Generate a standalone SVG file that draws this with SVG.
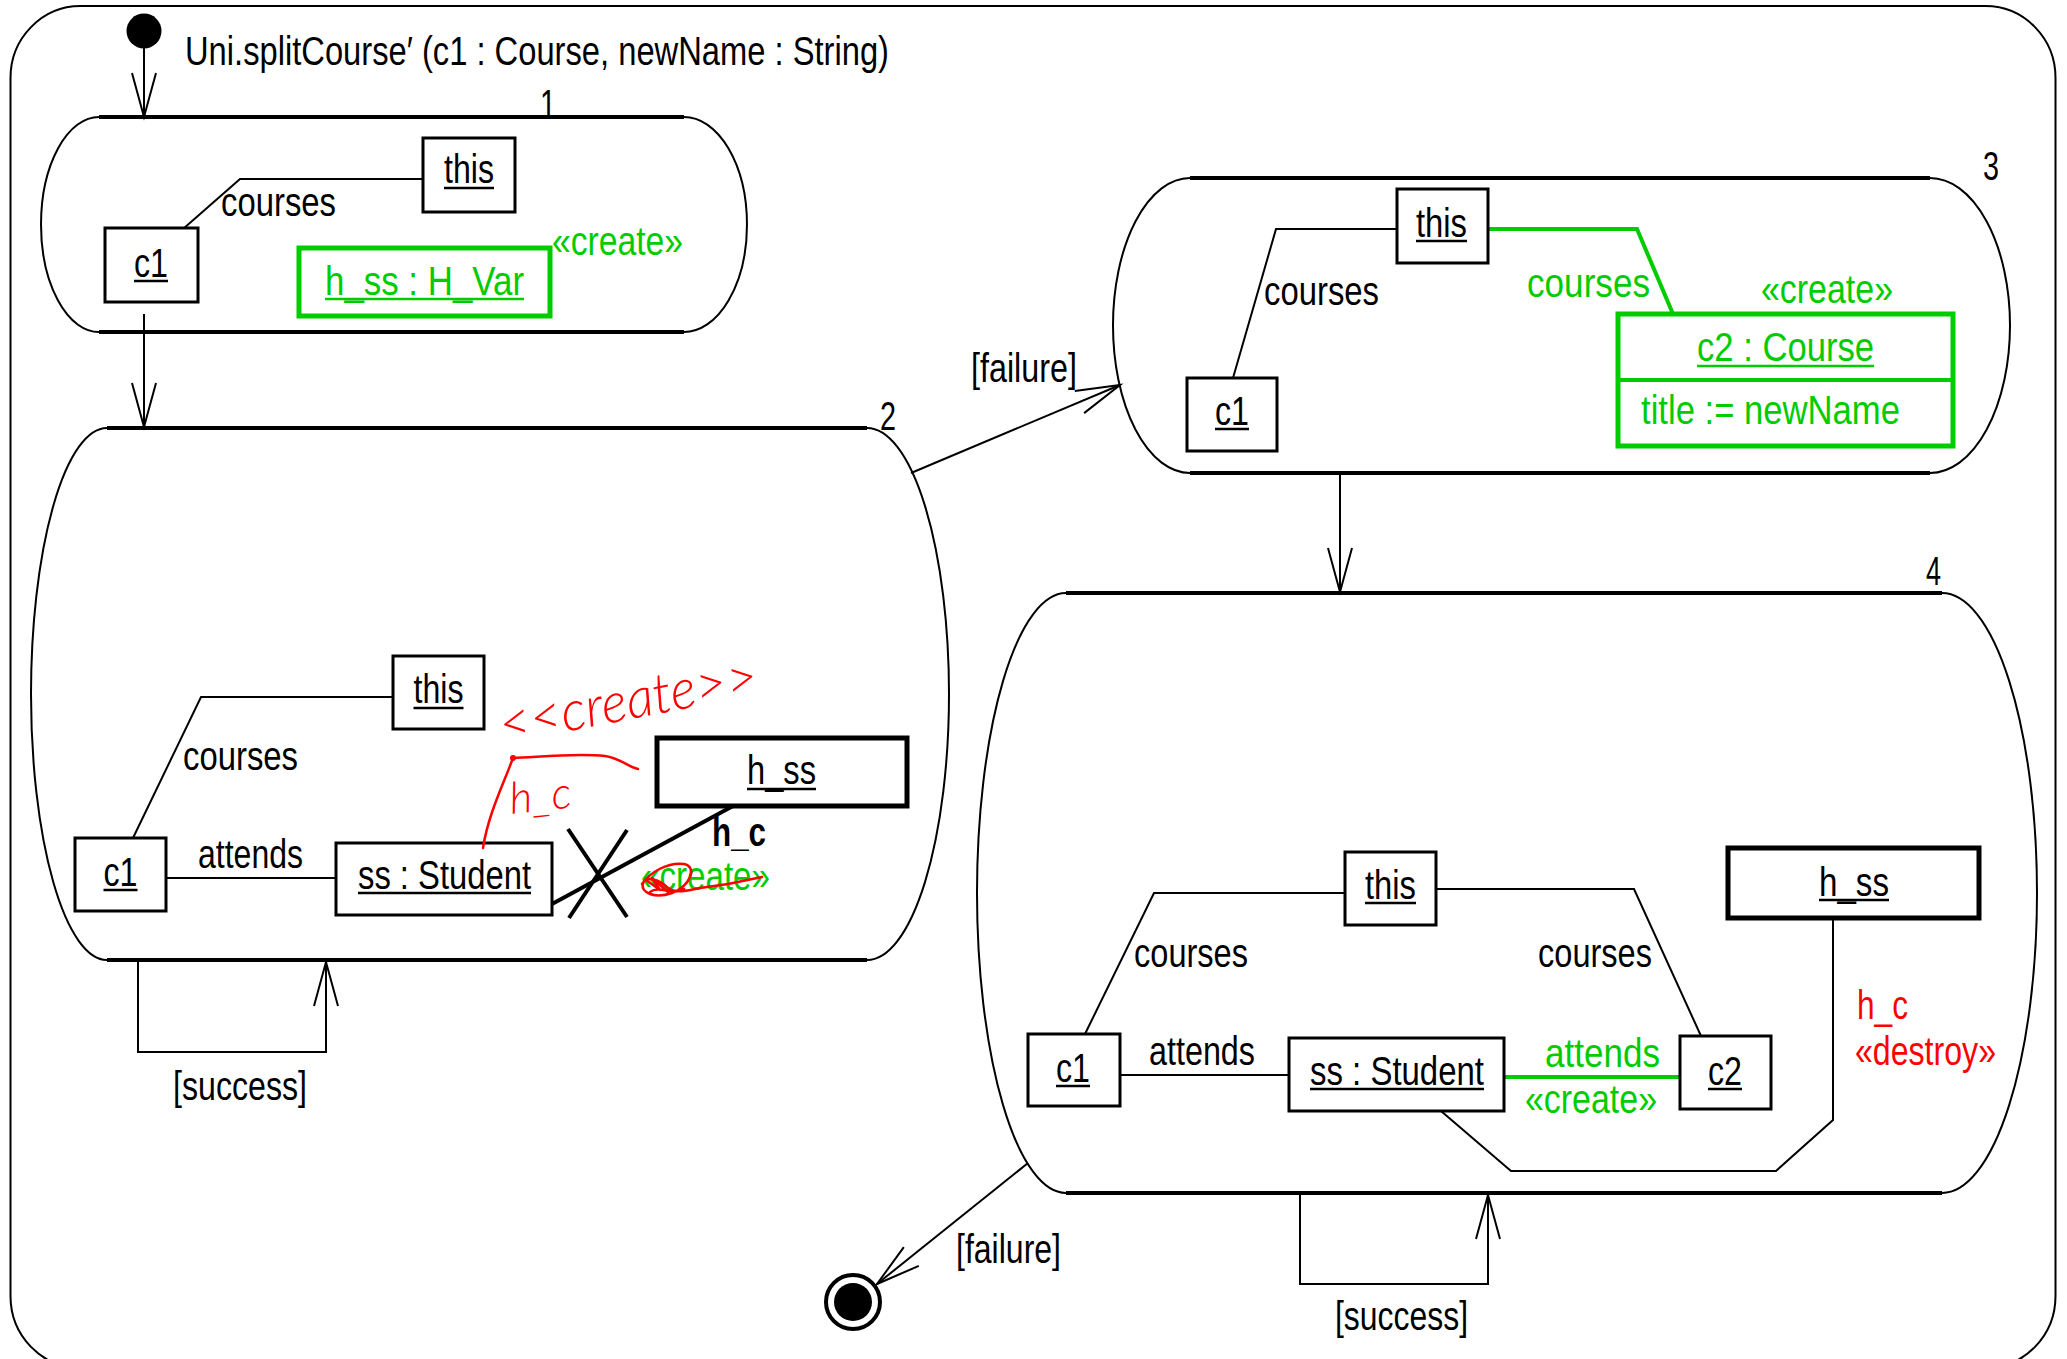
<svg xmlns="http://www.w3.org/2000/svg" width="2067" height="1359" viewBox="0 0 2067 1359">
  <defs>
    <style>
      .t { font-family: "Liberation Sans", Arial, sans-serif; font-size: 40px; fill: #000; }
      .g { fill: #00cc00; }
      .r { fill: #ff0000; }
      .b { font-weight: bold; }
      .hw { font-family: "Lato", "Inter", "Liberation Sans", sans-serif; font-style: italic; font-weight: 300; fill: #ff0000; }
      .frame { fill: #fff; stroke: #000; stroke-width: 2; }
      .st { fill: #fff; stroke: #000; stroke-width: 2; }
      .edge { stroke: #000; stroke-width: 4; }
      .box { fill: #fff; stroke: #000; stroke-width: 3; }
      .hbox { fill: #fff; stroke: #000; stroke-width: 5; }
      .gbox { fill: #fff; stroke: #00cc00; stroke-width: 5; }
      .ul { stroke: #000; stroke-width: 2.5; }
      .gul { stroke: #00cc00; stroke-width: 2.5; }
      .ln { fill: none; stroke: #000; stroke-width: 2; }
      .thick { fill: none; stroke: #000; stroke-width: 4; }
      .gl { fill: none; stroke: #00cc00; stroke-width: 4; }
      .ink { fill: none; stroke: #ff0000; stroke-width: 2.5; stroke-linecap: round; stroke-linejoin: round; }
      .tr { fill: none; stroke: #000; stroke-width: 2; marker-end: url(#open); }
    </style>
    <marker id="open" viewBox="0 0 44 24" refX="44" refY="12" markerWidth="44" markerHeight="24" markerUnits="userSpaceOnUse" orient="auto" overflow="visible">
      <path d="M0,0 L44,12 L0,24" fill="none" stroke="#000" stroke-width="2"/>
    </marker>
  </defs>

  <!-- enclosing operation frame -->
  <rect class="frame" x="10.5" y="6" width="2045" height="1362" rx="70" ry="72"/>
  <text class="t" x="185" y="65" textLength="704" lengthAdjust="spacingAndGlyphs">Uni.splitCourse′ (c1 : Course, newName : String)</text>

  <!-- pseudo states -->
  <g id="initial">
    <circle cx="144" cy="31" r="17.5" fill="#000"/>
  </g>
  <g id="final">
    <circle cx="853" cy="1302" r="27" fill="#fff" stroke="#000" stroke-width="4"/>
    <circle cx="853" cy="1302" r="19" fill="#000"/>
  </g>

  <!-- state 1 -->
  <g id="state1">
    <path class="st" d="M99,117 L684,117 A63,107.5 0 0 1 684,332 L99,332 A58,107.5 0 0 1 99,117 Z"/>
    <line class="edge" x1="99" y1="117" x2="684" y2="117"/>
    <line class="edge" x1="99" y1="332" x2="684" y2="332"/>
    <text class="t" x="540" y="118" textLength="16" lengthAdjust="spacingAndGlyphs">1</text>
    <polyline class="ln" points="183,229 240,179 423,179"/>
    <text class="t" x="221" y="216" textLength="115" lengthAdjust="spacingAndGlyphs">courses</text>
    <g id="s1-this">
      <rect class="box" x="423" y="138" width="92" height="74"/>
      <text class="t" x="444" y="183" textLength="50" lengthAdjust="spacingAndGlyphs">this</text>
      <line class="ul" x1="444" y1="188" x2="494" y2="188"/>
    </g>
    <g id="s1-c1">
      <rect class="box" x="105" y="228" width="93" height="74"/>
      <text class="t" x="134" y="277" textLength="34" lengthAdjust="spacingAndGlyphs">c1</text>
      <line class="ul" x1="134" y1="281" x2="168" y2="281"/>
    </g>
    <g id="s1-hss">
      <rect class="gbox" x="299" y="248" width="251" height="68"/>
      <text class="t g" x="325" y="295" textLength="199" lengthAdjust="spacingAndGlyphs">h_ss : H_Var</text>
      <line class="gul" x1="325" y1="299" x2="524" y2="299"/>
    </g>
    <text class="t g" x="552" y="255" textLength="131" lengthAdjust="spacingAndGlyphs">«create»</text>
  </g>

  <!-- state 2 -->
  <g id="state2">
    <path class="st" d="M107,428 L867,428 A82,266 0 0 1 867,960 L107,960 A76,266 0 0 1 107,428 Z"/>
    <line class="edge" x1="107" y1="428" x2="867" y2="428"/>
    <line class="edge" x1="107" y1="960" x2="867" y2="960"/>
    <text class="t" x="880" y="430" textLength="16" lengthAdjust="spacingAndGlyphs">2</text>
    <polyline class="ln" points="133,838 201,697 393,697"/>
    <text class="t" x="183" y="770" textLength="115" lengthAdjust="spacingAndGlyphs">courses</text>
    <line class="ln" x1="166" y1="878" x2="336" y2="878"/>
    <text class="t" x="198" y="868" textLength="105" lengthAdjust="spacingAndGlyphs">attends</text>
    <line class="thick" x1="552" y1="904" x2="733" y2="806"/>
    <g id="s2-this">
      <rect class="box" x="393" y="656" width="91" height="73"/>
      <text class="t" x="413.5" y="703" textLength="50" lengthAdjust="spacingAndGlyphs">this</text>
      <line class="ul" x1="413.5" y1="708" x2="463.5" y2="708"/>
    </g>
    <g id="s2-c1">
      <rect class="box" x="75" y="838" width="91" height="73"/>
      <text class="t" x="103.5" y="886" textLength="34" lengthAdjust="spacingAndGlyphs">c1</text>
      <line class="ul" x1="103.5" y1="890" x2="137.5" y2="890"/>
    </g>
    <g id="s2-ss">
      <rect class="box" x="336" y="843" width="216" height="72"/>
      <text class="t" x="358" y="889" textLength="173" lengthAdjust="spacingAndGlyphs">ss : Student</text>
      <line class="ul" x1="358" y1="893" x2="531" y2="893"/>
    </g>
    <g id="s2-hss">
      <rect class="hbox" x="657" y="738" width="250" height="68"/>
      <text class="t" x="747" y="784" textLength="69" lengthAdjust="spacingAndGlyphs">h_ss</text>
      <line class="ul" x1="747" y1="789" x2="816" y2="789"/>
    </g>
    <!-- destroy cross on the h_c link -->
    <line class="thick" x1="568" y1="829" x2="627" y2="917"/>
    <line class="thick" x1="627" y1="830" x2="569" y2="918"/>
    <text class="t b" x="712" y="846" textLength="54" lengthAdjust="spacingAndGlyphs">h_c</text>
    <text class="t g" x="641" y="890" textLength="129" lengthAdjust="spacingAndGlyphs">«create»</text>
    <!-- red pen corrections -->
    <path class="ink" d="M483,848 C488,815 503,785 513,758 C540,757 575,753 605,756 C620,758 628,767 638,769"/>
    <circle cx="513" cy="758" r="3" fill="#ff0000"/>
    <text class="hw" x="503" y="744" font-size="56" transform="rotate(-11 503 744)" textLength="262" lengthAdjust="spacingAndGlyphs">&lt;&lt;create&gt;&gt;</text>
    <text class="hw" x="511" y="814" font-size="44" transform="rotate(-6 511 814)" textLength="62" lengthAdjust="spacingAndGlyphs">h_c</text>
    <path class="ink" d="M642,884 C650,872 668,862 684,864 C698,867 690,886 672,893 C655,899 640,893 643,883 C646,875 660,880 668,888 C676,894 690,890 700,888 L728,884 L762,877 M650,892 C660,885 672,896 684,889 M646,880 L660,890 L652,878 L668,892"/>
  </g>

  <!-- state 3 -->
  <g id="state3">
    <path class="st" d="M1190,178 L1930,178 A80,147.5 0 0 1 1930,473 L1190,473 A77,147.5 0 0 1 1190,178 Z"/>
    <line class="edge" x1="1190" y1="178" x2="1930" y2="178"/>
    <line class="edge" x1="1190" y1="473" x2="1930" y2="473"/>
    <text class="t" x="1983" y="180" textLength="16" lengthAdjust="spacingAndGlyphs">3</text>
    <polyline class="ln" points="1233,378 1276,229 1397,229"/>
    <text class="t" x="1264" y="305" textLength="115" lengthAdjust="spacingAndGlyphs">courses</text>
    <polyline class="gl" points="1488,229 1637,229 1673,314"/>
    <text class="t g" x="1527" y="297" textLength="123" lengthAdjust="spacingAndGlyphs">courses</text>
    <text class="t g" x="1761" y="303" textLength="132" lengthAdjust="spacingAndGlyphs">«create»</text>
    <g id="s3-this">
      <rect class="box" x="1397" y="189" width="91" height="74"/>
      <text class="t" x="1416" y="237" textLength="51" lengthAdjust="spacingAndGlyphs">this</text>
      <line class="ul" x1="1416" y1="241" x2="1467" y2="241"/>
    </g>
    <g id="s3-c1">
      <rect class="box" x="1187" y="378" width="90" height="73"/>
      <text class="t" x="1215" y="425" textLength="34" lengthAdjust="spacingAndGlyphs">c1</text>
      <line class="ul" x1="1215" y1="429" x2="1249" y2="429"/>
    </g>
    <g id="s3-c2">
      <rect class="gbox" x="1618" y="314" width="335" height="132"/>
      <line class="gl" x1="1618" y1="380" x2="1953" y2="380"/>
      <text class="t g" x="1697" y="361" textLength="177" lengthAdjust="spacingAndGlyphs">c2 : Course</text>
      <line class="gul" x1="1697" y1="366" x2="1874" y2="366"/>
      <text class="t g" x="1641" y="424" textLength="259" lengthAdjust="spacingAndGlyphs">title := newName</text>
    </g>
  </g>

  <!-- state 4 -->
  <g id="state4">
    <path class="st" d="M1066,593 L1942,593 A95,300 0 0 1 1942,1193 L1066,1193 A89,300 0 0 1 1066,593 Z"/>
    <line class="edge" x1="1066" y1="593" x2="1942" y2="593"/>
    <line class="edge" x1="1066" y1="1193" x2="1942" y2="1193"/>
    <text class="t" x="1926" y="585" textLength="15" lengthAdjust="spacingAndGlyphs">4</text>
    <polyline class="ln" points="1085,1034 1154,893 1345,893"/>
    <text class="t" x="1134" y="967" textLength="114" lengthAdjust="spacingAndGlyphs">courses</text>
    <polyline class="ln" points="1436,889 1634,889 1701,1036"/>
    <text class="t" x="1538" y="967" textLength="114" lengthAdjust="spacingAndGlyphs">courses</text>
    <line class="ln" x1="1120" y1="1075" x2="1289" y2="1075"/>
    <text class="t" x="1149" y="1065" textLength="106" lengthAdjust="spacingAndGlyphs">attends</text>
    <line class="gl" x1="1504" y1="1077" x2="1680" y2="1077"/>
    <text class="t g" x="1545" y="1067" textLength="115" lengthAdjust="spacingAndGlyphs">attends</text>
    <text class="t g" x="1525" y="1113" textLength="132" lengthAdjust="spacingAndGlyphs">«create»</text>
    <polyline class="ln" points="1441,1111 1511,1171 1776,1171 1833,1120 1833,918"/>
    <text class="t r" x="1857" y="1019" textLength="51" lengthAdjust="spacingAndGlyphs">h_c</text>
    <text class="t r" x="1855" y="1065" textLength="141" lengthAdjust="spacingAndGlyphs">«destroy»</text>
    <g id="s4-this">
      <rect class="box" x="1345" y="852" width="91" height="73"/>
      <text class="t" x="1365" y="899" textLength="51" lengthAdjust="spacingAndGlyphs">this</text>
      <line class="ul" x1="1365" y1="903" x2="1416" y2="903"/>
    </g>
    <g id="s4-c1">
      <rect class="box" x="1028" y="1034" width="92" height="72"/>
      <text class="t" x="1056" y="1082" textLength="34" lengthAdjust="spacingAndGlyphs">c1</text>
      <line class="ul" x1="1056" y1="1086" x2="1090" y2="1086"/>
    </g>
    <g id="s4-ss">
      <rect class="box" x="1289" y="1038" width="215" height="73"/>
      <text class="t" x="1310" y="1085" textLength="174" lengthAdjust="spacingAndGlyphs">ss : Student</text>
      <line class="ul" x1="1310" y1="1089" x2="1484" y2="1089"/>
    </g>
    <g id="s4-c2">
      <rect class="box" x="1680" y="1036" width="91" height="73"/>
      <text class="t" x="1708" y="1085" textLength="34" lengthAdjust="spacingAndGlyphs">c2</text>
      <line class="ul" x1="1708" y1="1089" x2="1742" y2="1089"/>
    </g>
    <g id="s4-hss">
      <rect class="hbox" x="1728" y="848" width="251" height="70"/>
      <text class="t" x="1819" y="896" textLength="70" lengthAdjust="spacingAndGlyphs">h_ss</text>
      <line class="ul" x1="1819" y1="900" x2="1889" y2="900"/>
    </g>
  </g>

  <!-- transitions -->
  <g id="transitions">
    <line class="tr" x1="144" y1="48" x2="144" y2="117"/>
    <line class="tr" x1="144" y1="314" x2="144" y2="427"/>
    <line class="tr" x1="911" y1="473" x2="1120" y2="385"/>
    <text class="t" x="971" y="382" textLength="106" lengthAdjust="spacingAndGlyphs">[failure]</text>
    <polyline class="tr" points="138,961 138,1052 326,1052 326,962"/>
    <text class="t" x="173" y="1100" textLength="134" lengthAdjust="spacingAndGlyphs">[success]</text>
    <line class="tr" x1="1340" y1="474" x2="1340" y2="592"/>
    <polyline class="tr" points="1300,1194 1300,1284 1488,1284 1488,1195"/>
    <text class="t" x="1335" y="1330" textLength="133" lengthAdjust="spacingAndGlyphs">[success]</text>
    <line class="tr" x1="1028" y1="1163" x2="877" y2="1284"/>
    <text class="t" x="956" y="1263" textLength="105" lengthAdjust="spacingAndGlyphs">[failure]</text>
  </g>
</svg>
